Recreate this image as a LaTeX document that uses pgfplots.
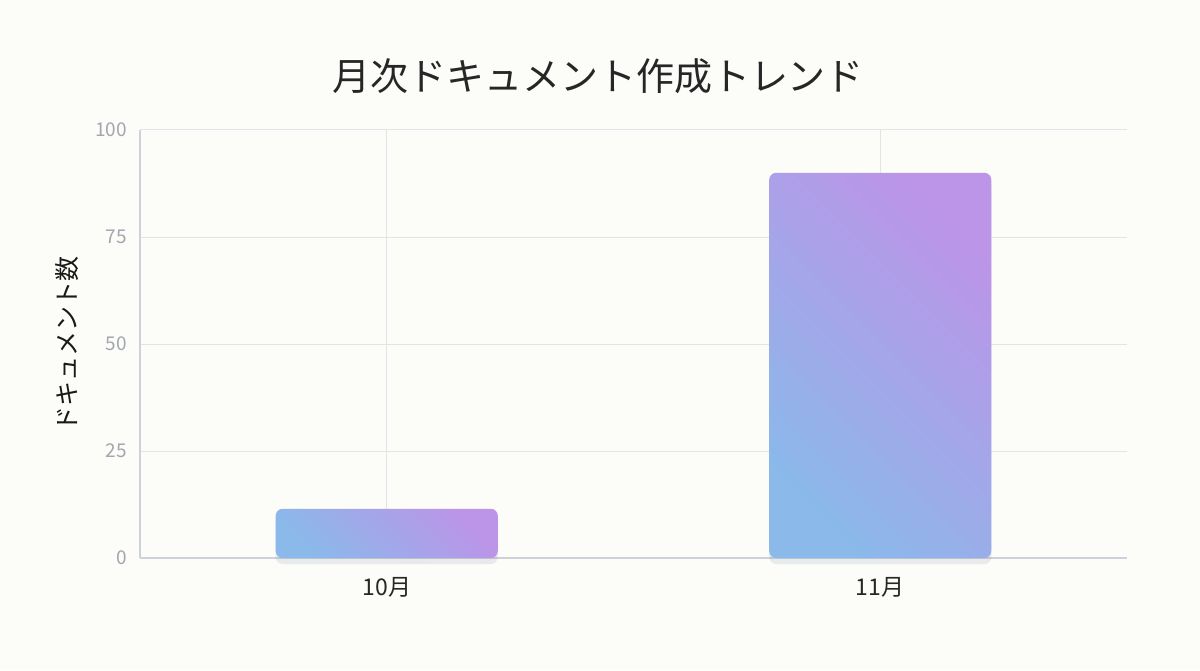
\documentclass[border=0pt]{standalone}
\usepackage{fontspec}
\setmainfont{Noto Sans CJK JP}
\usepackage{pgfplots}
\pgfplotsset{compat=1.18}
\usetikzlibrary{shadows}

\definecolor{bgcream}{HTML}{FCFCF9}
\definecolor{gridc}{HTML}{E2E4EA}
\definecolor{axisc}{HTML}{CDD1DC}
\definecolor{tickc}{HTML}{A3A6B0}
\definecolor{barblue}{HTML}{8AB9EA}
\definecolor{barpurple}{HTML}{BC94E8}

\pgfplotsset{
  gradbar/.style={ybar, bar shift=0pt, draw=none, rounded corners=3.5pt,
    bottom color=barblue, top color=barpurple, shading angle=-45,
    drop shadow={opacity=0.07, shadow xshift=0pt, shadow yshift=-3pt, fill=black!70}},
}

\begin{document}
\begin{tikzpicture}
  \fill[bgcream] (-70pt,-56pt) rectangle (530pt,279pt);
  \path[use as bounding box] (-70pt,-56pt) rectangle (530pt,279pt);

  \node[font=\fontsize{19}{22}\selectfont, text=black!85] at (229pt,241pt) {月次ドキュメント作成トレンド};

  \begin{axis}[
    at={(0,0)}, anchor=south west,
    width=493.5pt, height=214pt,
    scale only axis,
    clip=false,
    xmin=-0.5, xmax=1.5,
    ymin=0, ymax=100,
    xtick={0,1},
    xticklabels={10月, 11月},
    ytick={0,25,50,75,100},
    axis x line=bottom,
    axis y line=left,
    axis line style={axisc, line width=0.6pt, -},
    grid=major,
    major grid style={gridc, line width=0.5pt},
    tick style={draw=none},
    xticklabel style={font=\fontsize{11.5}{13}\selectfont, text=black!85, yshift=-4pt},
    yticklabel style={font=\fontsize{9.5}{11}\selectfont, text=tickc, xshift=-1pt},
    /pgf/number format/assume math mode=true,
    ylabel={ドキュメント数},
    ylabel style={font=\fontsize{12.5}{14}\selectfont, text=black!90, at={(axis description cs:0,0.5)}, anchor=south, yshift=27pt},
    bar width=0.45,
  ]
    \addplot[gradbar] coordinates {(0,11.5)};
    \addplot[gradbar] coordinates {(1,90)};
  \end{axis}
\end{tikzpicture}
\end{document}
